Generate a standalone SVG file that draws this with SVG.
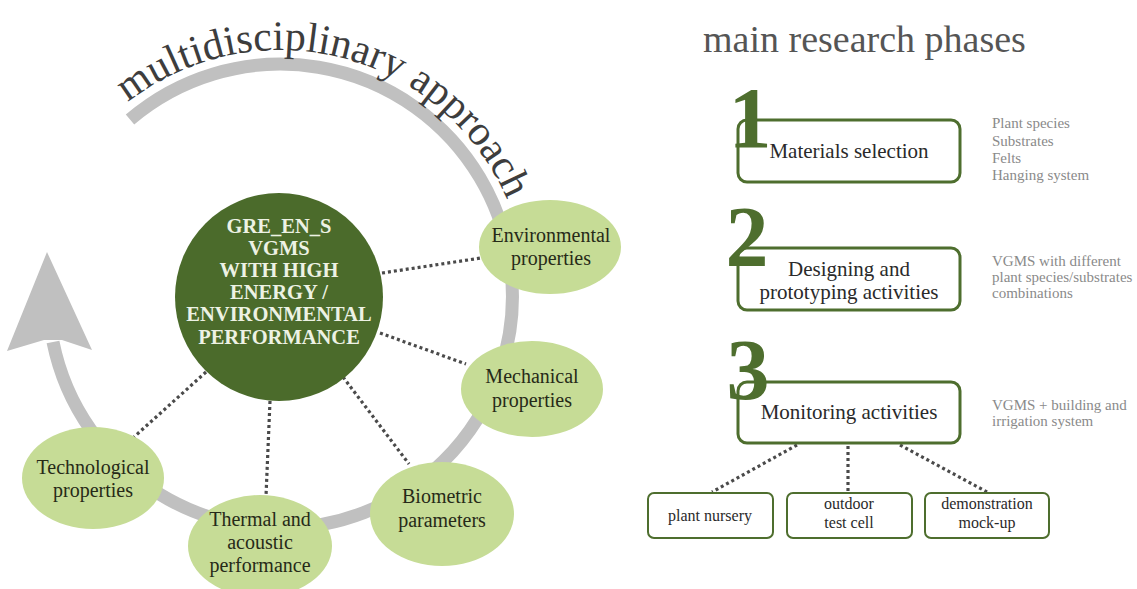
<svg xmlns="http://www.w3.org/2000/svg" width="1137" height="589" viewBox="0 0 1137 589">
<defs>
<style>
.arc{fill:none;stroke:#c0c0c0;stroke-width:13}
.dot{fill:none;stroke:#4a4a4a;stroke-width:3.2;stroke-dasharray:3 3}
.ell{fill:#c6dc96}
.lab{font-family:"Liberation Serif","Times New Roman",serif;font-size:20px;fill:#262a18;text-anchor:middle}
.core{font-family:"Liberation Serif","Times New Roman",serif;font-size:20.5px;font-weight:bold;fill:#edf2e4;text-anchor:middle}
.box{fill:#fff;stroke:#4e6e2e;stroke-width:3}
.sbox{fill:#fff;stroke:#4e6e2e;stroke-width:2}
.blab{font-family:"Liberation Serif","Times New Roman",serif;font-size:21px;fill:#2a2a2a;text-anchor:middle}
.slab{font-family:"Liberation Serif","Times New Roman",serif;font-size:16px;fill:#2a2a2a;text-anchor:middle}
.note{font-family:"Liberation Serif","Times New Roman",serif;font-size:15px;fill:#8a8a8a}
.num{font-family:"Liberation Serif","Times New Roman",serif;font-size:86px;font-weight:bold;fill:#4e6e2e;text-anchor:middle}
</style>
<path id="txtArc" d="M127.9,102.4 A247,247 0 0 1 523.2,254.1"/>
</defs>
<rect width="1137" height="589" fill="#fff"/>

<g id="cycle-arrow">
<path class="arc" d="M130,119.5 A232,232 0 1 1 53,342"/>
<polygon points="47,252 92,350 62,340 44,340 7,351" fill="#c0c0c0"/>
</g>
<text font-family="Liberation Serif,Times New Roman,serif" font-size="42" fill="#3d3d3d"><textPath href="#txtArc">multidisciplinary approach</textPath></text>

<g id="connectors">
<line class="dot" x1="382" y1="273" x2="481" y2="258"/>
<line class="dot" x1="380" y1="333" x2="466" y2="364"/>
<line class="dot" x1="343" y1="377" x2="409" y2="464"/>
<line class="dot" x1="270" y1="401" x2="266" y2="496"/>
<line class="dot" x1="206" y1="372" x2="134" y2="437"/>
<line class="dot" x1="797" y1="445" x2="712" y2="492"/>
<line class="dot" x1="848" y1="446" x2="848" y2="492"/>
<line class="dot" x1="900" y1="445" x2="987" y2="492"/>
</g>

<g id="core">
<circle cx="279" cy="297" r="104" fill="#4b6b2b"/>
<text class="core" x="279" y="233">GRE_EN_S</text>
<text class="core" x="279" y="255">VGMS</text>
<text class="core" x="279" y="277">WITH HIGH</text>
<text class="core" x="279" y="299">ENERGY /</text>
<text class="core" x="279" y="321">ENVIRONMENTAL</text>
<text class="core" x="279" y="344">PERFORMANCE</text>
</g>

<g id="environmental">
<ellipse class="ell" cx="550" cy="247" rx="71" ry="47"/>
<text class="lab" x="551" y="242">Environmental</text>
<text class="lab" x="551" y="265">properties</text>
</g>
<g id="mechanical">
<ellipse class="ell" cx="532" cy="389" rx="71" ry="48"/>
<text class="lab" x="532" y="383">Mechanical</text>
<text class="lab" x="532" y="407">properties</text>
</g>
<g id="biometric">
<ellipse class="ell" cx="442" cy="514" rx="72" ry="52"/>
<text class="lab" x="442" y="503">Biometric</text>
<text class="lab" x="442" y="527">parameters</text>
</g>
<g id="thermal">
<ellipse class="ell" cx="260" cy="546" rx="72" ry="51"/>
<text class="lab" x="260" y="526">Thermal and</text>
<text class="lab" x="260" y="549">acoustic</text>
<text class="lab" x="260" y="572">performance</text>
</g>
<g id="technological">
<ellipse class="ell" cx="93" cy="478" rx="71" ry="51"/>
<text class="lab" x="93" y="474">Technological</text>
<text class="lab" x="93" y="497">properties</text>
</g>

<text x="703" y="52" font-family="Liberation Serif,Times New Roman,serif" font-size="38" fill="#555">main research phases</text>

<g id="phase1">
<rect class="box" x="738" y="120" width="222" height="62" rx="9"/>
<text class="num" x="750" y="147">1</text>
<text class="blab" x="849" y="158">Materials selection</text>
<text class="note" x="992" y="128">Plant species</text>
<text class="note" x="992" y="146">Substrates</text>
<text class="note" x="992" y="163">Felts</text>
<text class="note" x="992" y="180">Hanging system</text>
</g>
<g id="phase2">
<rect class="box" x="738" y="248" width="222" height="62" rx="9"/>
<text class="num" x="747" y="266">2</text>
<text class="blab" x="849" y="276">Designing and</text>
<text class="blab" x="849" y="299">prototyping activities</text>
<text class="note" x="992" y="266">VGMS with different</text>
<text class="note" x="992" y="282">plant species/substrates</text>
<text class="note" x="992" y="298">combinations</text>
</g>
<g id="phase3">
<rect class="box" x="738" y="382" width="222" height="61" rx="9"/>
<text class="num" x="748" y="399">3</text>
<text class="blab" x="849" y="419">Monitoring activities</text>
<text class="note" x="992" y="410">VGMS + building and</text>
<text class="note" x="992" y="426">irrigation system</text>
</g>
<g id="plant-nursery">
<rect class="sbox" x="648" y="493" width="125" height="45" rx="6"/>
<text class="slab" x="710" y="521">plant nursery</text>
</g>
<g id="outdoor-test-cell">
<rect class="sbox" x="787" y="493" width="125" height="45" rx="6"/>
<text class="slab" x="849" y="509">outdoor</text>
<text class="slab" x="849" y="528">test cell</text>
</g>
<g id="demo-mockup">
<rect class="sbox" x="925" y="493" width="124" height="45" rx="6"/>
<text class="slab" x="987" y="509">demonstration</text>
<text class="slab" x="987" y="528">mock-up</text>
</g>
</svg>
